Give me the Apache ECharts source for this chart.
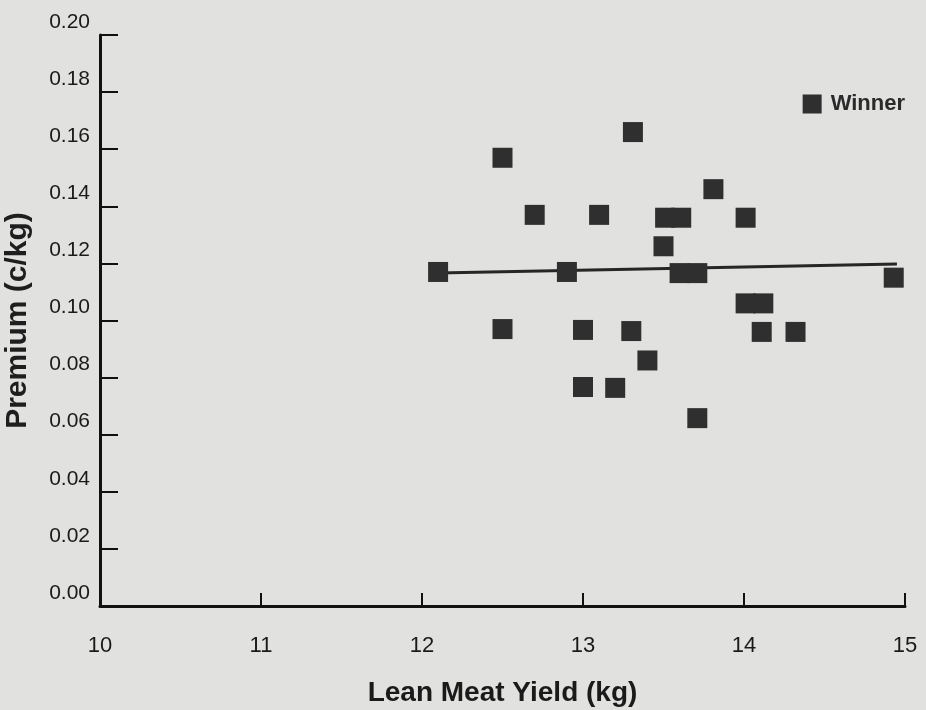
<!DOCTYPE html>
<html>
<head>
<meta charset="utf-8">
<script src="https://cdn.jsdelivr.net/npm/echarts@6/dist/echarts.min.js"></script>
<style>
html,body{margin:0;padding:0;background:#e1e1e0;}
#chart{width:926px;height:710px;}
</style>
</head>
<body>
<div id="chart"></div>
<script>
// Data
const yieldKg = [13.31, 12.50, 13.81, 12.70, 13.10, 13.51, 13.61, 14.01, 13.50, 12.10, 12.90, 13.60, 13.71, 14.93, 14.01, 14.12, 12.50, 13.00, 13.30, 14.11, 14.32, 13.40, 13.00, 13.20, 13.71];
const premium = [0.166, 0.157, 0.146, 0.137, 0.137, 0.136, 0.136, 0.136, 0.126, 0.117, 0.117, 0.1166, 0.1166, 0.115, 0.106, 0.106, 0.097, 0.0967, 0.0963, 0.096, 0.096, 0.086, 0.0767, 0.0764, 0.0658];
const trendX = [12.10, 14.95];
const trendY = [0.1166, 0.1198];
const yTicks = [0, 0.02, 0.04, 0.06, 0.08, 0.10, 0.12, 0.14, 0.16, 0.18, 0.20];
const xTicks = [10, 11, 12, 13, 14, 15];

const scatterData = yieldKg.map((x, i) => [x, premium[i]]);
const trendData = trendX.map((x, i) => [x, trendY[i]]);

const chart = echarts.init(document.getElementById('chart'));
const font = 'Liberation Sans, Arial, Helvetica, sans-serif';
chart.setOption({
  backgroundColor: '#e1e1e0',
  animation: false,
  textStyle: { fontFamily: font },
  grid: { left: 100, right: 21, top: 35, bottom: 104, containLabel: false, outerBoundsMode: 'none' },
  legend: {
    data: [{ name: 'Winner', icon: 'rect' }],
    right: 16, top: 88,
    itemWidth: 19, itemHeight: 19, itemGap: 6,
    textStyle: { fontFamily: font, fontSize: 22, fontWeight: 'bold', color: '#2a2a2a', padding: [0, 0, 0, 4] }
  },
  xAxis: {
    type: 'value', min: xTicks[0], max: xTicks[xTicks.length - 1], interval: 1,
    name: 'Lean Meat Yield (kg)', nameLocation: 'middle', nameGap: 73,
    nameTextStyle: { fontFamily: font, fontSize: 28, fontWeight: 'bold', color: '#1a1a1a' },
    axisLine: { show: true, lineStyle: { color: '#111', width: 3 } },
    axisTick: { show: true, inside: true, length: 13, lineStyle: { color: '#111', width: 2 } },
    axisLabel: { fontSize: 22, color: '#1a1a1a', margin: 29 },
    splitLine: { show: false }
  },
  yAxis: {
    type: 'value', min: yTicks[0], max: yTicks[yTicks.length - 1], interval: 0.02,
    name: 'Premium (c/kg)', nameLocation: 'middle', nameGap: 67, nameRotate: 90,
    nameTextStyle: { fontFamily: font, fontSize: 30, fontWeight: 'bold', color: '#1e1e1e' },
    axisLine: { show: true, lineStyle: { color: '#111', width: 3 } },
    axisTick: { show: true, inside: true, length: 18, lineStyle: { color: '#111', width: 2 } },
    axisLabel: { fontSize: 21, color: '#1a1a1a', margin: 10, lineHeight: 26, formatter: v => v.toFixed(2) + '\n' },
    splitLine: { show: false }
  },
  series: [
    {
      name: 'Trend', type: 'line', data: trendData, symbol: 'none',
      lineStyle: { color: '#262626', width: 3 }, z: 1, silent: true
    },
    {
      name: 'Winner', type: 'scatter', data: scatterData,
      symbol: 'rect', symbolSize: 20,
      itemStyle: { color: '#2f2f2f', opacity: 1 }, z: 2
    }
  ]
});
</script>
</body>
</html>
